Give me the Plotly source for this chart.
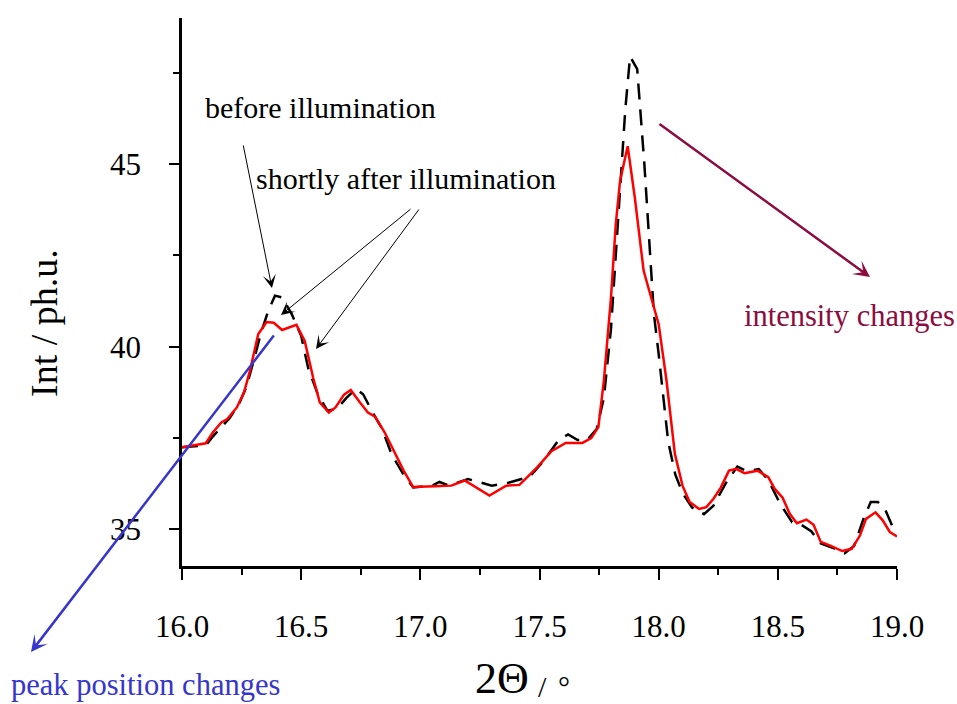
import plotly.graph_objects as go

# ---- data ----
x_after = [16.00, 16.10, 16.13, 16.165, 16.19, 16.23, 16.26, 16.285, 16.32, 16.355,
           16.385, 16.42, 16.48, 16.515, 16.55, 16.578, 16.616, 16.644, 16.68, 16.708,
           16.746, 16.78, 16.81, 16.85, 16.93, 16.97, 17.06, 17.13, 17.186, 17.25,
           17.29, 17.36, 17.416, 17.49, 17.55, 17.61, 17.68, 17.717, 17.747, 17.77,
           17.80, 17.82, 17.838, 17.87, 17.90, 17.937, 18.00, 18.033, 18.068, 18.10,
           18.13, 18.17, 18.20, 18.23, 18.26, 18.295, 18.325, 18.36, 18.415, 18.46,
           18.487, 18.52, 18.55, 18.58, 18.62, 18.65, 18.68, 18.72, 18.77, 18.81,
           18.845, 18.87, 18.91, 18.94, 18.97, 19.00]
y_after = [37.25, 37.36, 37.66, 37.93, 38.02, 38.34, 38.75, 39.34, 40.35, 40.68,
           40.66, 40.46, 40.60, 40.16, 39.16, 38.48, 38.20, 38.34, 38.69, 38.82,
           38.48, 38.20, 38.09, 37.66, 36.61, 36.16, 36.18, 36.20, 36.34, 36.09,
           35.93, 36.20, 36.22, 36.70, 37.14, 37.37, 37.37, 37.50, 37.80, 39.07,
           41.35, 43.35, 44.54, 45.49, 44.08, 42.08, 40.62, 39.07, 37.07, 36.20,
           35.75, 35.56, 35.61, 35.84, 36.14, 36.61, 36.66, 36.54, 36.61, 36.43,
           36.11, 35.87, 35.43, 35.17, 35.27, 35.13, 34.66, 34.56, 34.41, 34.47,
           34.84, 35.29, 35.47, 35.25, 34.93, 34.81]

x_before = [16.00, 16.10, 16.13, 16.17, 16.20, 16.24, 16.27, 16.30, 16.33, 16.36,
            16.39, 16.42, 16.46, 16.50, 16.53, 16.57, 16.61, 16.65, 16.69, 16.73,
            16.76, 16.80, 16.84, 16.88, 16.93, 16.97, 17.05, 17.08, 17.12, 17.20,
            17.25, 17.30, 17.37, 17.46, 17.52, 17.58, 17.62, 17.66, 17.70, 17.74,
            17.77, 17.80, 17.83, 17.86, 17.88, 17.91, 17.94, 17.96, 17.98, 18.00,
            18.02, 18.04, 18.07, 18.10, 18.14, 18.19, 18.23, 18.28, 18.33, 18.37,
            18.42, 18.46, 18.51, 18.56, 18.60, 18.64, 18.68, 18.73, 18.78, 18.82,
            18.86, 18.89, 18.92, 18.95, 18.98, 19.00]
y_before = [37.25, 37.30, 37.55, 37.85, 38.05, 38.45, 38.90, 39.60, 40.35, 40.95,
            41.40, 41.35, 40.90, 40.30, 39.40, 38.70, 38.25, 38.30, 38.60, 38.85,
            38.70, 38.20, 37.75, 37.05, 36.50, 36.15, 36.20, 36.30, 36.20, 36.38,
            36.30, 36.20, 36.28, 36.45, 36.90, 37.45, 37.60, 37.45, 37.45, 37.75,
            38.60, 40.50, 43.50, 46.50, 47.95, 47.60, 45.00, 43.00, 40.90, 39.80,
            38.50, 37.40, 36.50, 36.00, 35.60, 35.42, 35.65, 36.25, 36.72, 36.60,
            36.65, 36.35, 35.70, 35.20, 35.12, 34.95, 34.62, 34.50, 34.35, 34.55,
            35.30, 35.75, 35.75, 35.55, 35.10, 34.90]

x_ticks = [16.0, 16.5, 17.0, 17.5, 18.0, 18.5, 19.0]
x_ticktext = ["16.0", "16.5", "17.0", "17.5", "18.0", "18.5", "19.0"]
y_ticks = [35, 40, 45]
y_ticktext = ["35", "40", "45"]

FONT = "Liberation Serif"
W, H = 957, 704
L, R, T, B = 182, 60, 18, 138
PW, PH = W - L - R, H - T - B


def paper(px, py):
    return (px - L) / PW, (H - B - py) / PH


fig = go.Figure()
fig.add_trace(go.Scatter(x=x_before, y=y_before, mode="lines",
                         line=dict(color="black", width=2.5, dash="16px,10px"),
                         name="before illumination", showlegend=False))
fig.add_trace(go.Scatter(x=x_after, y=y_after, mode="lines",
                         line=dict(color="#ff0000", width=2.5),
                         name="shortly after illumination", showlegend=False))

annotations = []


def arrow(tail, tip, color, width, size, head=3):
    tx, ty = paper(*tip)
    annotations.append(dict(xref="paper", yref="paper", x=tx, y=ty,
                            ax=tail[0] - tip[0], ay=tail[1] - tip[1],
                            axref="pixel", ayref="pixel", text="",
                            showarrow=True, arrowhead=head, arrowsize=size,
                            arrowwidth=width, arrowcolor=color))


def label(text, px, py, color, size, xanchor="left", angle=0, yanchor="middle"):
    x, y = paper(px, py)
    annotations.append(dict(xref="paper", yref="paper", x=x, y=y, text=text,
                            showarrow=False, xanchor=xanchor, yanchor=yanchor,
                            textangle=angle, borderpad=0,
                            font=dict(family=FONT, size=size, color=color)))


BLACK = "#000000"
BLUE = "#3636cc"
MAROON = "#8c0c40"

arrow((243, 144), (272, 288), BLACK, 1, 2.2)
arrow((412, 208), (281, 315), BLACK, 1, 2.2)
arrow((420, 208), (316, 349), BLACK, 1, 2.2)
arrow((275, 334), (31, 652), BLUE, 2.5, 1.1)
arrow((658, 123), (870, 277), MAROON, 2.5, 1.1)

label("before illumination", 204, 107, BLACK, 30)
label("shortly after illumination", 255, 179, BLACK, 30)
label("intensity changes", 743, 316, MAROON, 30.5)
label("peak position changes", 10, 685, BLUE, 30.5)
label("Int / ph.u.", 44, 323, BLACK, 38, xanchor="center", angle=-90)
label("2Θ", 502, 704, BLACK, 44, xanchor="center", yanchor="bottom")
label("/", 542, 704, BLACK, 30, xanchor="center", yanchor="bottom")
label("°", 564, 704, BLACK, 30, xanchor="center", yanchor="bottom")

fig.update_layout(
    width=W, height=H,
    margin=dict(l=L, r=R, t=T, b=B, pad=0),
    paper_bgcolor="white", plot_bgcolor="white",
    font=dict(family=FONT, size=31, color="black"),
    showlegend=False,
    annotations=annotations,
    xaxis=dict(range=[16.0, 19.0], tickvals=x_ticks, ticktext=x_ticktext,
               showgrid=False, zeroline=False, showline=True, linecolor="black",
               linewidth=2.5, ticks="outside", ticklen=11, tickwidth=2,
               tickcolor="black", ticklabelstandoff=20,
               minor=dict(dtick=0.25, tick0=16.0, ticks="outside", ticklen=6,
                          tickwidth=2, tickcolor="black", showgrid=False),
               tickfont=dict(family=FONT, size=31)),
    yaxis=dict(range=[34.0, 49.0], tickvals=y_ticks, ticktext=y_ticktext,
               showgrid=False, zeroline=False, showline=True, linecolor="black",
               linewidth=2.5, ticks="outside", ticklen=10, tickwidth=2,
               tickcolor="black", ticklabelstandoff=22,
               minor=dict(dtick=2.5, tick0=35, ticks="outside", ticklen=6,
                          tickwidth=2, tickcolor="black", showgrid=False),
               tickfont=dict(family=FONT, size=31)),
)

fig.write_html("out.html", config={"displayModeBar": False})
